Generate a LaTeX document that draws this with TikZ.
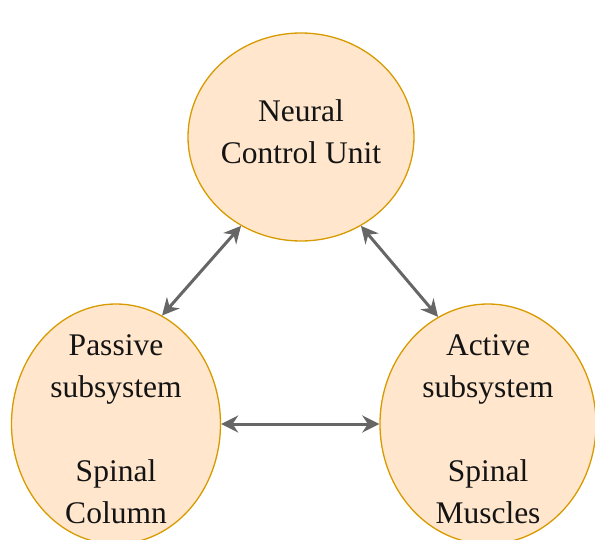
\documentclass[tikz,border=0pt]{standalone}
\usepackage{fontspec}
\setmainfont{Liberation Serif}[Ligatures=TeX]
\usetikzlibrary{shapes.geometric, arrows.meta, positioning}
\definecolor{unitfill}{HTML}{FFE6CC}
\definecolor{unitdraw}{HTML}{D79B00}
\definecolor{linkgray}{HTML}{666666}
\tikzset{
    unit/.style={ellipse, draw=unitdraw, fill=unitfill, line width=1.3pt, inner sep=0pt},
    unittext/.style={inner sep=0pt, align=center, text=black!92, font=\fontsize{31.5}{42}\rmfamily\selectfont},
    link/.style={draw=linkgray, line width=3pt, {Stealth[length=17pt,width=17pt]}-{Stealth[length=17pt,width=17pt]}}
}

\begin{document}
\begin{tikzpicture}[x=1pt, y=-1pt]
        \useasboundingbox (0,0) rectangle (595,540);

        % Subsystems
        \node (ncu) [unit, minimum width=226pt, minimum height=208pt] at (301, 137) {};
        \node (passive) [unit, minimum width=209pt, minimum height=240pt] at (116, 424) {};
        \node (active) [unit, minimum width=216pt, minimum height=240pt] at (488, 424) {};

        % Labels
        \node (ncutext) [unittext, yshift=5pt] at (ncu) {Neural\\Control Unit};
        \node (passivetext) [unittext, yshift=-5pt] at (passive) {Passive\\subsystem\\[42pt]Spinal\\Column};
        \node (activetext) [unittext, yshift=-5pt] at (active) {Active\\subsystem\\[42pt]Spinal\\Muscles};

        % Connections
        \draw[link] (ncu.236) -- (passive.67);
        \draw[link] (ncu.304) -- (active.115);
        \draw[link] (passive.east) -- (active.west);
    \end{tikzpicture}
\end{document}
